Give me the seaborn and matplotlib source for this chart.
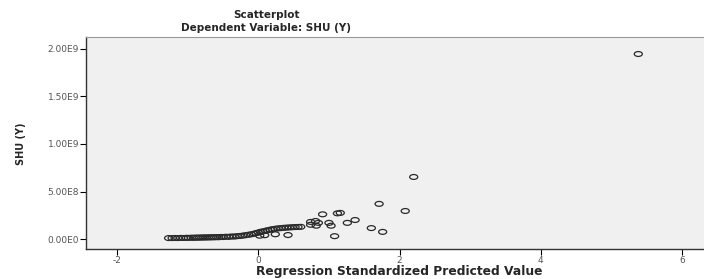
import numpy as np
import pandas as pd
import matplotlib
matplotlib.use("Agg")
import matplotlib.pyplot as plt
from matplotlib.path import Path
import seaborn as sns

# regression standardized predicted value
pred = [-1.27, -1.22, -1.18, -1.14, -1.10, -1.06, -1.02, -0.99, -0.95, -0.92,
        -0.89, -0.86, -0.83, -0.80, -0.77, -0.74, -0.71, -0.68, -0.65, -0.62,
        -0.59, -0.56, -0.53, -0.50, -0.46, -0.42, -0.38, -0.34, -0.30, -0.26,
        -0.22, -0.18, -0.14, -0.10, -0.06, -0.03, 0.00, 0.03, 0.06, 0.10,
        0.13, 0.17, 0.20, 0.24, 0.28, 0.32, 0.36, 0.40, 0.44, 0.48,
        0.52, 0.56, 0.60, 0.02, 0.09, 0.24, 0.42,
        0.74, 0.81, 0.85, 0.74, 0.82, 0.91, 1.00, 1.03, 1.08, 1.12,
        1.16, 1.26, 1.37, 1.60, 1.71, 1.76, 2.08, 2.20, 5.38]
# SHU (Y) in units of 1e8
shu = [0.10, 0.10, 0.11, 0.10, 0.12, 0.11, 0.13, 0.12, 0.14, 0.13,
       0.15, 0.14, 0.16, 0.15, 0.17, 0.16, 0.18, 0.17, 0.19, 0.18,
       0.20, 0.19, 0.22, 0.21, 0.24, 0.23, 0.27, 0.26, 0.30, 0.32,
       0.36, 0.40, 0.45, 0.50, 0.56, 0.62, 0.68, 0.75, 0.80, 0.86,
       0.92, 0.98, 1.03, 1.08, 1.12, 1.15, 1.18, 1.20, 1.22, 1.24,
       1.26, 1.27, 1.28, 0.35, 0.40, 0.50, 0.42,
       1.80, 1.90, 1.70, 1.50, 1.40, 2.60, 1.70, 1.40, 0.30, 2.70,
       2.75, 1.70, 2.00, 1.15, 3.70, 0.75, 2.95, 6.53, 19.47]

y_ticks = [0, 5e8, 1e9, 1.5e9, 2e9]
y_ticklabels = ["0.00E0", "5.00E8", "1.00E9", "1.50E9", "2.00E9"]
x_ticks = [-2, 0, 2, 4, 6]

df = pd.DataFrame({"pred": pred, "shu": np.array(shu) * 1e8})

sns.set_style("white")
plt.rcParams["font.family"] = ["DejaVu Sans"]

fig = plt.figure(figsize=(7.04, 2.79), dpi=100)
ax = fig.add_axes([86 / 704, 1 - 249 / 279, 618 / 704, 212 / 279])
ax.set_facecolor("#f0f0f0")

# flattened open circle like the original
circ = Path.unit_circle()
ell = Path(circ.vertices * np.array([1.0, 0.6]), circ.codes)

sns.scatterplot(data=df, x="pred", y="shu", ax=ax, marker=ell, s=34,
                facecolors="none", edgecolor="#2a2a2a", linewidth=0.9)

ax.set_xlim(-2.44, 6.31)
ax.set_ylim(-1.05e8, 2.126e9)
ax.set_xticks(x_ticks)
ax.set_xticklabels([str(t) for t in x_ticks])
ax.set_yticks(y_ticks)
ax.set_yticklabels(y_ticklabels)
ax.tick_params(axis="both", direction="out", length=4, width=0.8,
               labelsize=6.5, labelcolor="#555555", color="black",
               bottom=True, left=True, pad=1)

for side in ["left", "bottom"]:
    ax.spines[side].set_color("#333333")
    ax.spines[side].set_linewidth(1.0)
ax.spines["top"].set_color("#999999")
ax.spines["right"].set_visible(False)

ax.set_xlabel("")
ax.set_ylabel("")
fig.text(399 / 704, 1 - 272 / 279, "Regression Standardized Predicted Value",
         ha="center", va="center", fontsize=8.8, fontweight="bold")
fig.text(21 / 704, 1 - 144 / 279, "SHU (Y)", rotation=90,
         ha="center", va="center", fontsize=7, fontweight="bold")
fig.text(266 / 704, 1 - 15 / 279, "Scatterplot",
         ha="center", va="center", fontsize=7.5, fontweight="bold")
fig.text(266 / 704, 1 - 28 / 279, "Dependent Variable: SHU (Y)",
         ha="center", va="center", fontsize=7.5, fontweight="bold")

fig.savefig("out.png", dpi=100)
